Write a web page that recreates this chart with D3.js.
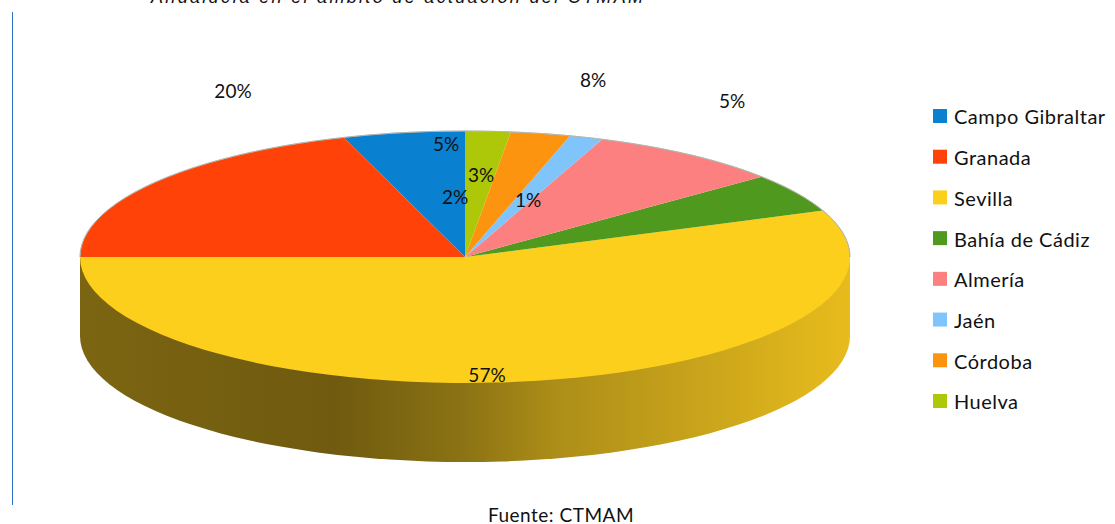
<!DOCTYPE html>
<html>
<head>
<meta charset="utf-8">
<script src="https://cdn.jsdelivr.net/npm/d3@7"></script>
<style>
    html, body { margin: 0; background: #fff; overflow: hidden; }
    text { font-family: Lato, "Open Sans", sans-serif; fill: #111; }
</style>
</head>
<body>
<div class="chart"></div>
<script>
const categories = ["Campo Gibraltar", "Granada", "Sevilla", "Bahía de Cádiz", "Almería", "Jaén", "Córdoba", "Huelva"];
// slice sizes measured on the drawing, the printed labels are rounded differently
const shares = [5.1, 19.9, 56, 5, 8.2, 1.4, 2.5, 1.9];
const shownLabels = ["5%", "20%", "57%", "5%", "8%", "1%", "3%", "2%"];
const colors = ["#0a80d0", "#ff4208", "#fccf1c", "#4f9a1e", "#fc8080", "#80c4fc", "#fc9410", "#acc808"];

// hand placed in the original, so kept apart from the values
const labelPlaces = [[446, 144], [233, 91], [487, 375], [732, 101], [593, 80], [528, 200], [481, 175], [455, 197]];

const svgWidth = 1115;
const svgHeight = 524;
const cx = 465, cy = 257, rx = 385, ry = 126, depth = 79;

let svg = d3.select(".chart")
    .append("svg")
    .attr("width", svgWidth)
    .attr("height", svgHeight)
    .style("display", "block");

let defs = svg.append("defs");

let wallGradient = defs.append("linearGradient")
    .attr("id", "wall");

wallGradient.selectAll("stop")
    .data([
        {offset: "0%", color: "#7c6512"},
        {offset: "33%", color: "#6f5a0f"},
        {offset: "50%", color: "#8c7314"},
        {offset: "62%", color: "#ad8e18"},
        {offset: "80%", color: "#c8a31b"},
        {offset: "95%", color: "#e0b61c"},
        {offset: "100%", color: "#e8bb1c"}
    ])
    .enter().append("stop")
    .attr("offset", d => d.offset)
    .attr("stop-color", d => d.color);

// thin blue rule on the page and the title cut by the top edge
svg.append("line")
    .attr("x1", 12.5).attr("x2", 12.5)
    .attr("y1", 12).attr("y2", 505)
    .style("stroke", "#2f6fc0");

svg.append("text")
    .attr("x", 151)
    .attr("y", 3)
    .attr("textLength", 492)
    .style("font-family", "'Liberation Sans'")
    .style("font-style", "italic")
    .style("font-size", "18px")
    .text("Andalucía en el ámbito de actuación del CTMAM");

// side of the disc
svg.append("path")
    .attr("d", `M${cx - rx},${cy} L${cx - rx},${cy + depth} A${rx},${ry} 0 0 0 ${cx + rx},${cy + depth} L${cx + rx},${cy} Z`)
    .style("fill", "url(#wall)");

let pie = d3.pie()
    .sort(null)
    .startAngle(0)
    .endAngle(-2 * Math.PI);

let arc = d3.arc()
    .innerRadius(0)
    .outerRadius(rx);

let disc = svg.append("g")
    .attr("transform", `translate(${cx}, ${cy}) scale(1, ${ry / rx})`);

disc.selectAll("path")
    .data(pie(shares))
    .enter()
    .append("path")
    .attr("d", arc)
    .style("fill", (d, i) => colors[i]);

// grey rim round the back of the top face
disc.append("path")
    .attr("d", d3.arc().innerRadius(rx).outerRadius(rx)({startAngle: -Math.PI / 2, endAngle: Math.PI / 2}))
    .style("fill", "none")
    .style("stroke", "#b4b4ac")
    .style("stroke-width", 0.8)
    .style("vector-effect", "non-scaling-stroke");

svg.selectAll(".label")
    .data(shownLabels)
    .enter()
    .append("text")
    .attr("class", "label")
    .attr("x", (d, i) => labelPlaces[i][0])
    .attr("y", (d, i) => labelPlaces[i][1])
    .attr("dy", "0.35em")
    .attr("text-anchor", "middle")
    .style("font-size", "19px")
    .text(d => d);

let legendScale = d3.scalePoint()
    .domain(categories)
    .range([116, 401]);

let legend = svg.selectAll(".legend")
    .data(categories)
    .enter()
    .append("g")
    .attr("class", "legend")
    .attr("transform", d => `translate(933, ${legendScale(d)})`);

legend.append("rect")
    .attr("y", -7)
    .attr("width", 14)
    .attr("height", 14)
    .style("fill", (d, i) => colors[i]);

legend.append("text")
    .attr("x", 21)
    .attr("dy", "0.42em")
    .style("font-size", "20px")
    .style("letter-spacing", "0.5px")
    .text(d => d);

svg.append("text")
    .attr("x", 561)
    .attr("y", 522)
    .attr("text-anchor", "middle")
    .style("font-size", "19px")
    .style("letter-spacing", "0.5px")
    .text("Fuente: CTMAM");
</script>
</body>
</html>
